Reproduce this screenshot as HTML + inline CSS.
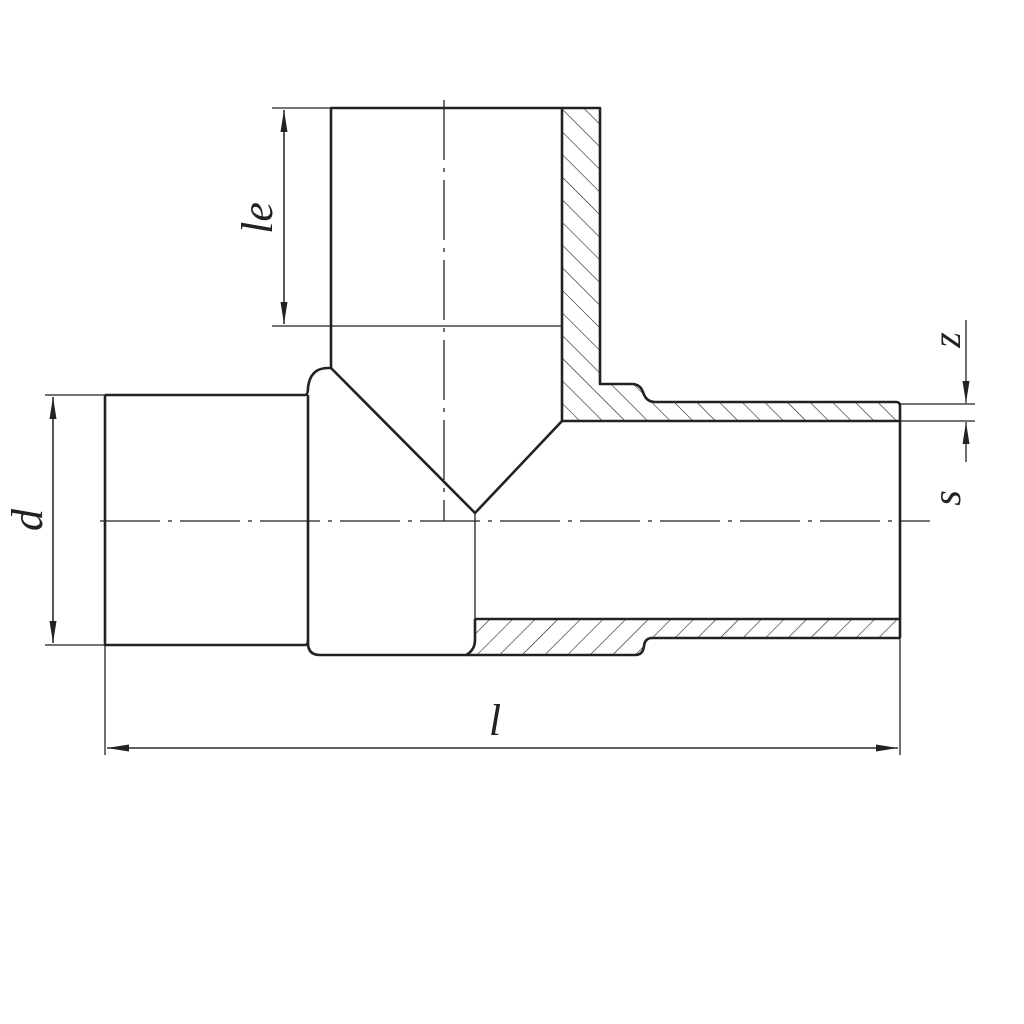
<!DOCTYPE html>
<html><head><meta charset="utf-8"><style>html,body{margin:0;padding:0;background:#fff}svg{display:block}</style></head>
<body>
<svg width="1024" height="1024" viewBox="0 0 1024 1024" xmlns="http://www.w3.org/2000/svg">
<defs>
<pattern id="hb" patternUnits="userSpaceOnUse" width="16" height="16" patternTransform="rotate(-45)">
<line x1="0" y1="0" x2="0" y2="16" stroke="#222" stroke-width="1.2"/></pattern>
<pattern id="hf" patternUnits="userSpaceOnUse" width="16" height="16" patternTransform="rotate(45)">
<line x1="0" y1="0" x2="0" y2="16" stroke="#222" stroke-width="1.2"/></pattern>
<marker id="ar" markerWidth="22" markerHeight="8" refX="22" refY="4" orient="auto" markerUnits="userSpaceOnUse">
<path d="M0,0.5 L22,4 L0,7.5 Z" fill="#222"/></marker>
</defs>
<g fill="none" stroke="#222">
<path d="M562,108 L600,108 L600,384 L632,384 Q640,384 643,392 Q646,402 655,402 L900,402 L900,421 L562,421 Z" fill="url(#hb)" stroke="none"/>
<path d="M475,619 L900,619 L900,638 L652,638 Q645,638 644,646 Q643,655 635,655 L470,655 Q475,650 475,640 Z" fill="url(#hf)" stroke="none"/>
<g stroke-width="2.6" stroke-linejoin="round">
<path d="M331,368 L331,108 L600,108 L600,384 L632,384 Q640,384 643,392 Q646,402 655,402 L896,402 Q900,402 900,406 L900,638"/>
<line x1="562" y1="108" x2="562" y2="421"/>
<line x1="562" y1="421" x2="900" y2="421"/>
<path d="M331,368 L475,513 L562,421"/>
<path d="M105,395 L305,395 Q308,395 308,388 Q310,368 328,368 L331,368"/>
<path d="M308,395 L308,643 Q308,655 320,655 L635,655 Q643,655 644,646 Q645,638 652,638 L900,638"/>
<line x1="475" y1="619" x2="900" y2="619"/>
<path d="M475,619 L475,640 Q475,650 466,655"/>
<path d="M105,395 L105,645 L305,645 Q308,645 308,640"/>
</g>
<g stroke-width="1.3">
<line x1="475" y1="513" x2="475" y2="619"/>
<line x1="100" y1="521" x2="930" y2="521" stroke-dasharray="60,8,4,8"/>
<line x1="444" y1="100" x2="444" y2="521" stroke-dasharray="60,8,4,8"/>
<line x1="272" y1="108" x2="331" y2="108"/>
<line x1="272" y1="326" x2="562" y2="326"/>
<line x1="284" y1="110" x2="284" y2="324" marker-end="url(#ar)"/>
<line x1="284" y1="324" x2="284" y2="110" marker-end="url(#ar)"/>
<line x1="45" y1="395" x2="105" y2="395"/>
<line x1="45" y1="645" x2="105" y2="645"/>
<line x1="53" y1="397" x2="53" y2="643" marker-end="url(#ar)"/>
<line x1="53" y1="643" x2="53" y2="397" marker-end="url(#ar)"/>
<line x1="105" y1="645" x2="105" y2="755"/>
<line x1="900" y1="638" x2="900" y2="755"/>
<line x1="107" y1="748" x2="898" y2="748" marker-end="url(#ar)"/>
<line x1="898" y1="748" x2="107" y2="748" marker-end="url(#ar)"/>
<line x1="900" y1="404" x2="975" y2="404"/>
<line x1="900" y1="421" x2="975" y2="421"/>
<line x1="966" y1="320" x2="966" y2="403" marker-end="url(#ar)"/>
<line x1="966" y1="462" x2="966" y2="422" marker-end="url(#ar)"/>
</g>
</g>
<g font-family="Liberation Serif, serif" font-style="italic" fill="#222">
<text x="272" y="218" font-size="44" transform="rotate(-90 272 218)" text-anchor="middle">le</text>
<text x="42" y="520" font-size="44" transform="rotate(-90 42 520)" text-anchor="middle">d</text>
<text x="495" y="735" font-size="44" text-anchor="middle">l</text>
<text x="960" y="340" font-size="40" transform="rotate(-90 960 340)" text-anchor="middle">z</text>
<text x="960" y="498" font-size="40" transform="rotate(-90 960 498)" text-anchor="middle">s</text>
</g>
</svg>
</body></html>
